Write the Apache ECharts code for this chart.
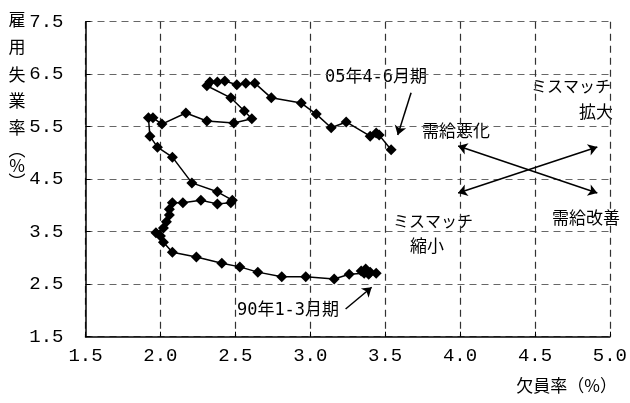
<!DOCTYPE html>
<html>
<head>
<meta charset="utf-8">
<script src="https://cdn.jsdelivr.net/npm/echarts@6/dist/echarts.min.js"></script>
<style>html,body{margin:0;padding:0;background:#fff;}#c{width:630px;height:403px;}</style>
</head>
<body>
<div id="c"></div>
<script>
// 欠員率 (vacancy rate, %) — x values, 1990 Q1 → 2005 Q2
const vacancyRate = [3.44,3.40,3.37,3.34,3.39,3.36,3.26,3.16,2.97,2.81,2.65,2.53,2.41,2.24,2.08,2.02,2.00,1.97,2.02,2.04,2.06,2.06,2.08,2.15,2.27,2.38,2.47,2.48,2.38,2.21,2.08,1.98,1.93,1.92,1.95,2.01,2.17,2.31,2.49,2.61,2.56,2.47,2.31,2.33,2.38,2.43,2.51,2.57,2.63,2.74,2.94,3.04,3.14,3.24,3.40,3.44,3.46,3.54];
// 雇用失業率 (employee unemployment rate, %) — y values
const unemploymentRate = [2.71,2.73,2.79,2.75,2.69,2.71,2.69,2.60,2.64,2.64,2.73,2.83,2.90,3.02,3.11,3.30,3.42,3.48,3.57,3.69,3.82,3.93,4.05,4.05,4.10,4.03,4.05,4.10,4.26,4.43,4.92,5.11,5.32,5.67,5.67,5.55,5.76,5.61,5.57,5.65,5.80,6.05,6.28,6.35,6.35,6.37,6.30,6.33,6.33,6.05,5.95,5.74,5.48,5.59,5.32,5.38,5.34,5.06];
const xTicks = [1.5,2.0,2.5,3.0,3.5,4.0,4.5,5.0];
const yTicks = [1.5,2.5,3.5,4.5,5.5,6.5,7.5];

const points = vacancyRate.map((v,i)=>[v, unemploymentRate[i]]);

const cjk = "'Noto Sans CJK JP', sans-serif";
const mixed = "'DejaVu Sans Mono', 'Noto Sans CJK JP', monospace";
const tickFont = "'Liberation Mono', 'DejaVu Sans Mono', monospace";

const chart = echarts.init(document.getElementById('c'), null, {renderer:'canvas'});

function txt(text, x, y, size, align, family){
  return {type:'text', x:x, y:y, silent:true, style:{text:text, fill:'#000', font: size+'px '+(family||cjk), textAlign: align||'center', textVerticalAlign:'middle'}};
}

const yTitle = [['雇',20],['用',47],['失',75],['業',101],['率',128],['︵',150],['%',166],['︶',182]];

const arrowStyle = {color:'#000', width:1.5, type:'solid'};

chart.setOption({
  animation:false,
  grid:{left:85.5, right:17.4, top:21.7, bottom:66.3},
  xAxis:{
    type:'value', min:xTicks[0], max:xTicks[xTicks.length-1], interval:0.5,
    axisLine:{show:true, onZero:false, lineStyle:{color:'#000', width:1.5}},
    axisTick:{show:true, inside:true, length:5, lineStyle:{color:'#000'}},
    axisLabel:{color:'#000', fontSize:19, fontFamily:tickFont, margin:10, formatter:v=>v.toFixed(1)},
    splitLine:{show:true, lineStyle:{color:'#333', type:[7,5], width:1.2}}
  },
  yAxis:{
    type:'value', min:yTicks[0], max:yTicks[yTicks.length-1], interval:1,
    axisLine:{show:true, onZero:false, lineStyle:{color:'#000', width:1.5}},
    axisTick:{show:true, inside:true, length:5, lineStyle:{color:'#000'}},
    axisLabel:{color:'#000', fontSize:19, fontFamily:tickFont, margin:22, formatter:v=>v.toFixed(1)},
    splitLine:{show:true, lineStyle:{color:'#666', type:[7,5], width:1.2}}
  },
  series:[
    {
      type:'line', data:points, symbol:'diamond', symbolSize:11,
      itemStyle:{color:'#000'}, lineStyle:{color:'#000', width:1.5},
      z:5
    },
    {
      type:'line', data:[], silent:true,
      markLine:{
        silent:true, animation:false, symbolSize:9,
        label:{show:false}, lineStyle:arrowStyle,
        data:[
          [{coord:[3.673,6.148], symbol:'none'},{coord:[3.584,5.342], symbol:'arrow'}],
          [{coord:[3.236,2.028], symbol:'none'},{coord:[3.410,2.441], symbol:'arrow'}],
          [{coord:[3.987,5.132], symbol:'arrow'},{coord:[4.916,4.237], symbol:'arrow'}],
          [{coord:[3.987,4.237], symbol:'arrow'},{coord:[4.916,5.113], symbol:'arrow'}]
        ]
      }
    }
  ],
  graphic:[
    ...yTitle.map(([c,y])=>txt(c,17,y,17,'center')),
    txt('欠員率（%）',617,386,17,'right'),
    txt('05年4-6月期',376,78,17,'center',mixed),
    txt('90年1-3月期',288,311,17,'center',mixed),
    txt('需給悪化',456,131,17,'center'),
    txt('ミスマッチ',571,86,16,'center'),
    txt('拡大',596,112,17,'center'),
    txt('需給改善',586,218,17,'center'),
    txt('ミスマッチ',433,221,16,'center'),
    txt('縮小',427,246,17,'center')
  ]
});
</script>
</body>
</html>
